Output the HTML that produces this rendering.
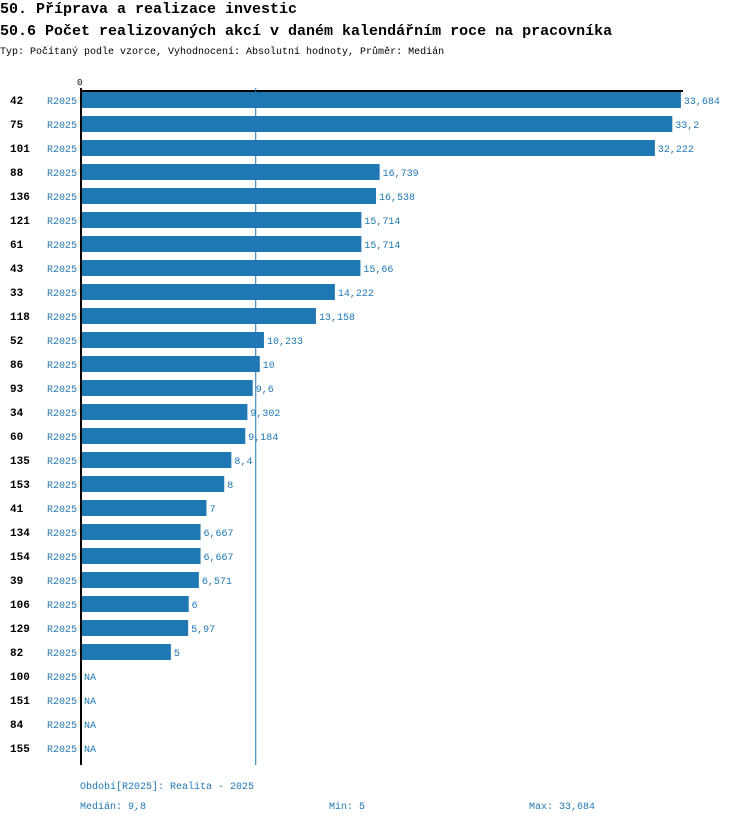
<!DOCTYPE html>
<html><head><meta charset="utf-8"><style>
body{margin:0;background:#fff;width:750px;height:824px;overflow:hidden;font-family:"Liberation Mono",monospace}
svg text{font-family:"Liberation Mono",monospace}
</style></head><body>
<svg width="750" height="824">
<text x="0" y="13" font-size="15" font-weight="bold" fill="#000">50. Příprava a realizace investic</text>
<text x="0" y="35" font-size="15" font-weight="bold" fill="#000">50.6 Počet realizovaných akcí v daném kalendářním roce na pracovníka</text>
<text x="0" y="54" font-size="10" fill="#000">Typ: Počítaný podle vzorce, Vyhodnocení: Absolutní hodnoty, Průměr: Medián</text>
<text x="77" y="85" font-size="9" fill="#000">0</text>
<g id="rows"></g>
<line x1="80" y1="91" x2="683" y2="91" stroke="#000" stroke-width="2"/>
<line x1="81" y1="88" x2="81" y2="765" stroke="#000" stroke-width="2"/>
<line id="med" y1="88" y2="765" stroke="#1f77b4" stroke-width="1"/>
<text x="80" y="789" font-size="10" fill="#1f77b4">Období[R2025]: Realita - 2025</text>
<text x="80" y="809" font-size="10" fill="#1f77b4">Medián: 9,8</text>
<text x="329" y="809" font-size="10" fill="#1f77b4">Min: 5</text>
<text x="529" y="809" font-size="10" fill="#1f77b4">Max: 33,684</text>
</svg>
<script>
const ids=["42","75","101","88","136","121","61","43","33","118","52","86","93","34","60","135","153","41","134","154","39","106","129","82","100","151","84","155"];
const values=[33.684,33.2,32.222,16.739,16.538,15.714,15.714,15.66,14.222,13.158,10.233,10,9.6,9.302,9.184,8.4,8,7,6.667,6.667,6.571,6,5.97,5,null,null,null,null];
const median=9.8;
const x0=82,scale=17.78;
const xs=v=>x0+v*scale, ys=i=>100+i*24;
const NS="http://www.w3.org/2000/svg";
const g=document.getElementById('rows');
function mk(t,a,txt){const e=document.createElementNS(NS,t);for(const k in a)e.setAttribute(k,a[k]);if(txt!=null)e.textContent=txt;g.appendChild(e);return e;}
ids.forEach((id,i)=>{
 const y=ys(i);
 const a=mk('text',{x:10,y:y+4,'font-size':11,'font-weight':'bold',fill:'#000'},id);
 
 
 const b=mk('text',{x:47,y:y+4,'font-size':10,fill:'#1f77b4'},'R2025');
 
 
 const v=values[i];
 if(v==null){
  const n=mk('text',{x:84,y:y+4,'font-size':10,fill:'#1f77b4'},'NA');
  
  
 }else{
  const r=mk('rect',{x:x0,y:y-8,width:xs(v)-x0,height:16,fill:'#1f77b4'});
  
  
  const t=mk('text',{x:xs(v)+3,y:y+4,'font-size':10,fill:'#1f77b4'},String(v).replace('.',','));
  
  
 }
});
const m=document.getElementById('med');m.setAttribute('x1',xs(median)-0.5);m.setAttribute('x2',xs(median)-0.5);
</script>
</body></html>
